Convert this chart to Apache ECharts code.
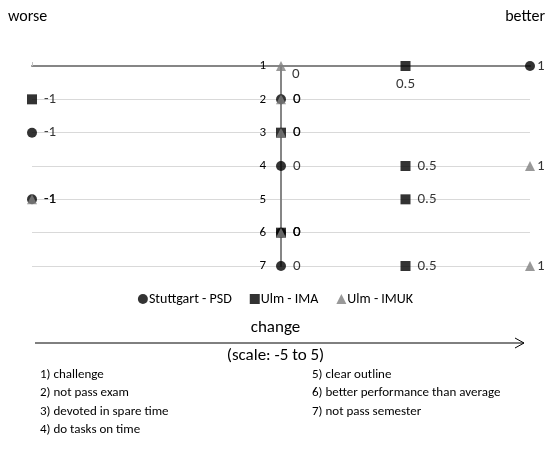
<!DOCTYPE html>
<html><head><meta charset="utf-8">
<script src="https://cdn.jsdelivr.net/npm/echarts@6/dist/echarts.min.js"></script>
<style>html,body{margin:0;padding:0;background:#fff}#c{width:551px;height:458px}</style>
</head><body><div id="c"></div>
<script>
var rows = [1, 2, 3, 4, 5, 6, 7];
var stuttgartPSD = [1, 0, -1, 0, -1, 0, 0];
var ulmIMA = [0.5, -1, 0, 0.5, 0.5, 0, 0.5];
var ulmIMUK = [0, 0, 0, 1, -1, 0, 1];
var seriesNames = ['Stuttgart - PSD', 'Ulm - IMA', 'Ulm - IMUK'];
var footnotesLeft = ['1) challenge', '2) not pass exam', '3) devoted in spare time', '4) do tasks on time'];
var footnotesRight = ['5) clear outline', '6) better performance than average', '7) not pass semester'];

var FONT = 'Carlito, Lato, "Noto Sans", sans-serif';

function pts(vals) { return vals.map(function (v, i) { return [v, rows[i]]; }); }

function mkSeries(name, vals, symbol, color, labelPosFn) {
  return {
    name: name, type: 'scatter', symbol: symbol, symbolSize: 10,
    itemStyle: { color: color },
    data: pts(vals).map(function (p, i) {
      var d = { value: p };
      var lp = labelPosFn ? labelPosFn(i) : null;
      if (!lp && p[0] === 1) lp = { distance: 2 };
      if (lp) d.label = lp;
      return d;
    }),
    label: {
      show: true, position: 'right', distance: 7, color: '#000', fontSize: 15, fontFamily: FONT,
      formatter: function (p) { return String(p.value[0]); }
    },
    emphasis: { disabled: true }
  };
}

var chart = echarts.init(document.getElementById('c'));
var g = [];
g.push({ type: 'text', left: 8, top: 9, style: { text: 'worse', fontSize: 16, fontFamily: FONT, fill: '#000' } });
g.push({ type: 'text', right: 6, top: 9, style: { text: 'better', fontSize: 16, fontFamily: FONT, fill: '#000' } });
g.push({ type: 'text', left: 'center', top: 319, style: { text: 'change', fontSize: 17, fontFamily: FONT, fill: '#000' } });
g.push({ type: 'text', left: 'center', top: 347, style: { text: '(scale: -5 to 5)', fontSize: 17, fontFamily: FONT, fill: '#000' } });
g.push({ type: 'line', shape: { x1: 35, y1: 343, x2: 524, y2: 343 }, style: { stroke: '#000', lineWidth: 1 } });
g.push({ type: 'polyline', shape: { points: [[515, 338], [524, 343], [515, 348]] }, style: { stroke: '#000', lineWidth: 1, fill: null } });
footnotesLeft.forEach(function (t, i) {
  g.push({ type: 'text', left: 40, top: 368 + i * 18.5, style: { text: t, fontSize: 13, fontFamily: FONT, fill: '#000' } });
});
footnotesRight.forEach(function (t, i) {
  g.push({ type: 'text', left: 312, top: 368 + i * 18.5, style: { text: t, fontSize: 13, fontFamily: FONT, fill: '#000' } });
});

chart.setOption({
  animation: false,
  textStyle: { fontFamily: FONT },
  grid: { left: 32, right: 21, top: 66, bottom: 192, containLabel: false },
  legend: {
    top: 287, left: 'center', itemWidth: 10, itemHeight: 10, itemGap: 18,
    textStyle: { fontSize: 14, fontFamily: FONT, color: '#000', padding: [0, 0, 0, -4] },
    data: [
      { name: seriesNames[0], icon: 'circle' },
      { name: seriesNames[1], icon: 'rect' },
      { name: seriesNames[2], icon: 'triangle' }
    ]
  },
  xAxis: {
    type: 'value', min: -1, max: 1, position: 'top',
    axisLine: { show: true, onZero: false, lineStyle: { color: '#868686', width: 2 } },
    axisTick: { show: true, customValues: [-1], length: 4, lineStyle: { color: '#bfbfbf', width: 1 } },
    axisLabel: { show: false },
    splitLine: { show: false }
  },
  yAxis: {
    type: 'value', min: 1, max: 7, interval: 1, inverse: true,
    axisLine: { show: true, onZero: true, lineStyle: { color: '#868686', width: 2 } },
    axisTick: { show: false },
    axisLabel: { show: true, inside: true, align: 'right', margin: 234, fontSize: 13, fontFamily: FONT, color: '#000' },
    splitLine: { show: true, lineStyle: { color: '#d9d9d9', width: 1 } }
  },
  series: [
    mkSeries(seriesNames[0], stuttgartPSD, 'circle', '#000000'),
    mkSeries(seriesNames[1], ulmIMA, 'rect', '#000000', function (i) {
      return i === 0 ? { position: 'bottom', distance: 6 } : null;
    }),
    mkSeries(seriesNames[2], ulmIMUK, 'triangle', '#808080', function (i) {
      return i === 0 ? { position: [16, 6] } : null;
    })
  ],
  graphic: g
});
</script>
</body></html>
